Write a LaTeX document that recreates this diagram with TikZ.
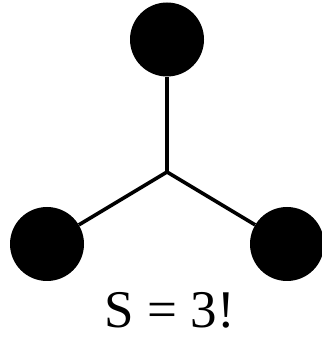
\documentclass[tikz,border=0pt]{standalone}
\usepackage{fontspec}
\setmainfont{Liberation Serif}
\begin{document}
\begin{tikzpicture}[x=1pt,y=1pt,
  ball/.style={circle,fill=black,minimum size=74pt,inner sep=0pt},
  bond/.style={line width=3.6pt}]
\useasboundingbox (0,0) rectangle (321,339);
\coordinate (c) at (167,167);
\node[ball] (t) at (167,299.5) {};
\node[ball] (l) at (47,95) {};
\node[ball] (r) at (287,95) {};
\draw[bond] (c) -- (t);
\draw[bond] (c) -- (l);
\draw[bond] (c) -- (r);
\node[anchor=base,font=\fontsize{53}{62}\selectfont,inner sep=0pt] (s) at (170,12) {S = 3!};
\end{tikzpicture}
\end{document}
